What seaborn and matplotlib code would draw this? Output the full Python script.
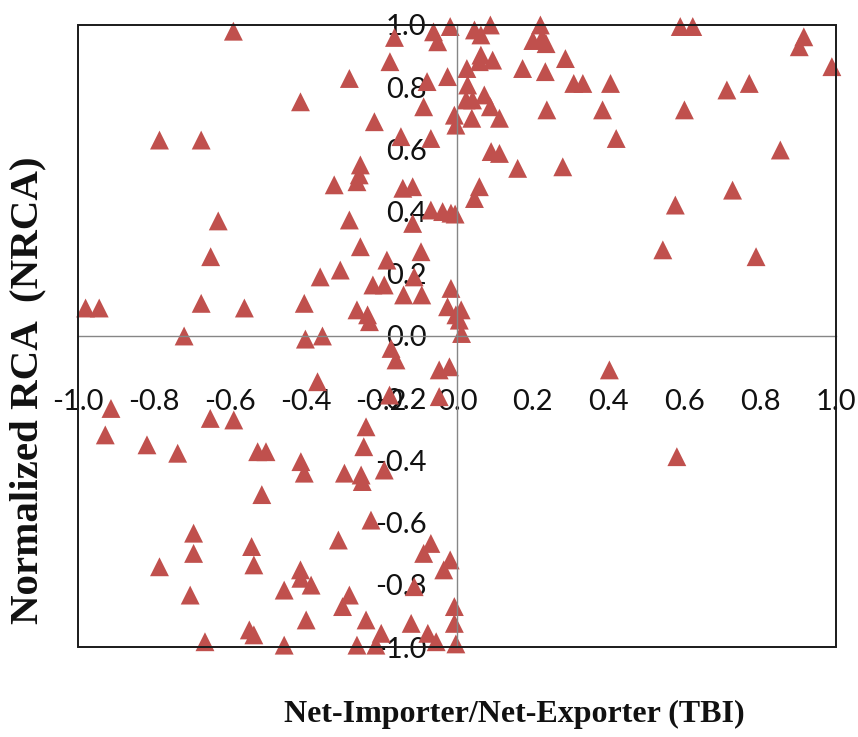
import matplotlib
matplotlib.use("Agg")
import matplotlib.pyplot as plt
from matplotlib.patches import Rectangle
import seaborn as sns
import pandas as pd

# --- values ---
tbi = [
    -0.59, -0.785, -0.675, -0.63, -0.65, -0.98, -0.944, -0.675, -0.561, -0.72,
    -0.165, -0.062, -0.051, -0.018, -0.177, -0.284, -0.079, -0.025, -0.413, -0.088,
    -0.218, -0.007, -0.003, -0.148, -0.069, -0.255, -0.258, -0.264, -0.324, -0.143,
    -0.117, -0.069, -0.038, -0.016, -0.005, -0.284, -0.117, -0.255, -0.095, -0.308,
    -0.361, -0.185, -0.222, -0.192, -0.113, -0.141, -0.093, -0.403, -0.264, -0.236,
    -0.231, -0.016, -0.025, -0.003, -0.40, -0.355,
    0.046, 0.063, 0.088, 0.20, 0.22, 0.225, 0.235, 0.063, 0.094, 0.059,
    0.026, 0.173, 0.233, 0.286, 0.028, 0.072, 0.308, 0.332, 0.405, 0.024,
    0.041, 0.088, 0.039, 0.112, 0.237, 0.384, 0.42, 0.09, 0.112, 0.16,
    0.279, 0.059, 0.046, 0.011, 0.006, 0.012, 0.589, 0.622, 0.915, 0.903,
    0.989, 0.771, 0.712, 0.60, 0.853, 0.727, 0.576, 0.543, 0.789,
    -0.913, -0.928, -0.818, -0.737, -0.651, -0.589, -0.526, -0.504, -0.515, -0.695,
    -0.695, -0.785, -0.704, -0.542, -0.536, -0.548, -0.536, -0.665, -0.368, -0.174,
    -0.161, -0.178, -0.047, -0.02, -0.047, -0.24, -0.246, -0.192, -0.412, -0.403,
    -0.297, -0.253, -0.25, -0.227, -0.313, -0.069, -0.088, -0.018, -0.035, -0.413,
    -0.412, -0.385, -0.456, -0.113, -0.284, -0.302, -0.398, -0.24, -0.007, -0.007,
    -0.121, -0.20, -0.077, -0.055, -0.003, -0.456, -0.264, -0.214, 0.402, 0.58,
]
nrca = [
    0.98, 0.63, 0.63, 0.37, 0.255, 0.09, 0.09, 0.105, 0.09, 0.0,
    0.96, 0.978, 0.946, 0.995, 0.882, 0.828, 0.818, 0.834, 0.753, 0.737,
    0.689, 0.71, 0.678, 0.641, 0.635, 0.55, 0.518, 0.496, 0.486, 0.475,
    0.48, 0.405, 0.40, 0.395, 0.392, 0.373, 0.362, 0.287, 0.271, 0.212,
    0.19, 0.244, 0.164, 0.164, 0.19, 0.132, 0.132, 0.105, 0.084, 0.068,
    0.046, 0.153, 0.094, 0.068, -0.01, 0.0,
    0.984, 0.968, 1.0, 0.95, 1.0, 0.96, 0.94, 0.903, 0.887, 0.882,
    0.86, 0.86, 0.85, 0.892, 0.807, 0.775, 0.812, 0.812, 0.812, 0.759,
    0.759, 0.737, 0.70, 0.70, 0.727, 0.727, 0.635, 0.593, 0.587, 0.539,
    0.544, 0.48, 0.442, 0.084, 0.051, 0.008, 0.995, 0.995, 0.962, 0.93,
    0.866, 0.812, 0.791, 0.727, 0.598, 0.469, 0.421, 0.277, 0.255,
    -0.233, -0.318, -0.35, -0.377, -0.265, -0.27, -0.372, -0.372, -0.51, -0.634,
    -0.699, -0.742, -0.833, -0.677, -0.736, -0.945, -0.961, -0.983, -0.147, -0.04,
    -0.077, -0.19, -0.109, -0.099, -0.195, -0.292, -0.356, -0.431, -0.404, -0.441,
    -0.441, -0.447, -0.468, -0.592, -0.656, -0.667, -0.699, -0.72, -0.752, -0.752,
    -0.779, -0.801, -0.817, -0.806, -0.833, -0.87, -0.913, -0.913, -0.87, -0.924,
    -0.924, -0.956, -0.956, -0.983, -0.99, -0.994, -0.994, -0.994, -0.109, -0.388,
]
ticks = [-1.0, -0.8, -0.6, -0.4, -0.2, 0.0, 0.2, 0.4, 0.6, 0.8, 1.0]
tick_labels = ["-1.0", "-0.8", "-0.6", "-0.4", "-0.2", "0.0",
               "0.2", "0.4", "0.6", "0.8", "1.0"]

df = pd.DataFrame({"TBI": tbi, "NRCA": nrca})

sns.set_theme(style="white")
plt.rcParams["font.family"] = ["Lato", "DejaVu Sans"]

fig = plt.figure(figsize=(8.58, 7.37), dpi=100)
ax = fig.add_axes([0.0909, 0.1221, 0.8835, 0.844])

sns.scatterplot(data=df, x="TBI", y="NRCA", marker="^", s=185,
                color="#C0504D", edgecolor="none", linewidth=0,
                clip_on=False, ax=ax, legend=False, zorder=1)

ax.set_xlim(-1, 1)
ax.set_ylim(-1, 1)

# axes cross at zero, grey
for side in ["left", "bottom"]:
    ax.spines[side].set_position(("data", 0))
    ax.spines[side].set_color("#868686")
    ax.spines[side].set_linewidth(1.0)
for side in ["top", "right"]:
    ax.spines[side].set_visible(False)

# plot area border
ax.add_patch(Rectangle((0, 0), 1, 1, transform=ax.transAxes, fill=False,
                       edgecolor="#1a1a1a", linewidth=1.4, clip_on=False, zorder=3))

ax.set_xticks(ticks)
ax.set_xticklabels(tick_labels)
ax.set_yticks(ticks)
ax.set_yticklabels(tick_labels)
ax.tick_params(axis="x", length=0, pad=38, labelsize=21, labelcolor="#111111")
ax.tick_params(axis="y", length=0, pad=22, labelsize=21, labelcolor="#111111")
ax.set_xlabel("")
ax.set_ylabel("")

fig.text(514 / 858, 1 - 714 / 737, "Net-Importer/Net-Exporter (TBI)",
         ha="center", va="center", fontsize=23, fontweight="bold",
         family=["Liberation Serif", "DejaVu Serif"], color="#111111")
fig.text(28 / 858, 1 - 390 / 737, "Normalized RCA  (NRCA)",
         ha="center", va="center", rotation=90, fontsize=29.5, fontweight="bold",
         family=["Liberation Serif", "DejaVu Serif"], color="#111111")

fig.savefig("out.png", dpi=100)
